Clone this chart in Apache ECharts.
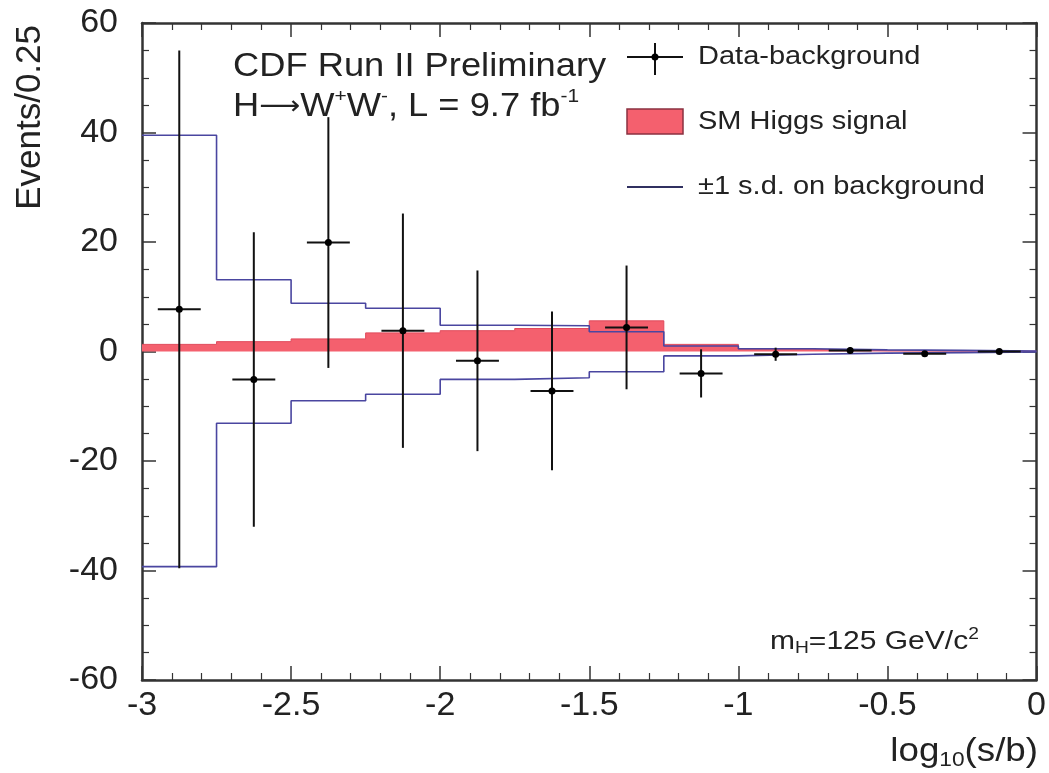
<!DOCTYPE html>
<html>
<head>
<meta charset="utf-8">
<script src="https://cdn.jsdelivr.net/npm/echarts@6/dist/echarts.min.js"></script>
<style>
html, body { margin: 0; padding: 0; background: #fff; }
#main { width: 1049px; height: 773px; }
</style>
</head>
<body>
<div id="main"></div>
<script>
// bins in log10(s/b), width 0.25
var binLow = [-3, -2.75, -2.5, -2.25, -2, -1.75, -1.5, -1.25, -1, -0.75, -0.5, -0.25];
var binWidth = 0.25;
// data - background and its error
var dataVal = [7.7, -5.1, 19.9, 3.8, -1.7, -7.2, 4.4, -4.0, -0.5, 0.2, -0.4, 0.0];
var dataErr = [47.3, 26.9, 22.9, 21.4, 16.5, 14.5, 11.3, 4.4, 1.2, 0.6, 0.4, 0.3];
// SM Higgs signal
var signal = [1.3, 1.8, 2.3, 3.4, 3.8, 4.2, 5.6, 1.3, 0.4, 0.15, 0.1, 0.05];
// +-1 s.d. on background
var bkgUp = [39.5, 13.1, 8.8, 7.9, 4.8, 4.7, 3.6, 1.0, 0.5, 0.3, 0.2, 0.1];
var bkgDown = [-39.3, -13.1, -9.0, -7.8, -5.1, -4.8, -3.7, -0.8, -0.5, -0.3, -0.2, -0.1];

var font = "'Liberation Sans', Arial, sans-serif";
var ink = '#222';
var bandColor = '#4a46a0';
var redColor = '#f4606e';

// step histogram points: left edge of every bin, then the right edge of the last
function steps(vals) {
  var pts = binLow.map(function (x, i) { return [x, vals[i]]; });
  pts.push([binLow[binLow.length - 1] + binWidth, vals[vals.length - 1]]);
  return pts;
}

var points = binLow.map(function (x, i) {
  return [x + binWidth / 2, dataVal[i], dataErr[i]];
});

var axisCommon = {
  axisLine: { show: true, onZero: false, lineStyle: { color: '#333', width: 2.5 } },
  axisTick: { show: true, inside: true, length: 14, lineStyle: { color: '#333', width: 1.5 } },
  minorTick: { show: true, length: 7, lineStyle: { color: '#333', width: 1.2 } },
  splitLine: { show: false },
  minorSplitLine: { show: false }
};

var myChart = echarts.init(document.getElementById('main'));
var option = {
  backgroundColor: '#fff',
  animation: false,
  grid: { left: 142, right: 11, top: 23, bottom: 93 },
  xAxis: [
    Object.assign({}, axisCommon, {
      type: 'value', position: 'bottom', min: -3, max: 0, interval: 0.5,
      minorTick: Object.assign({}, axisCommon.minorTick, { splitNumber: 5 }),
      axisLabel: { color: ink, fontSize: 34, fontFamily: font, margin: 9 }
    }),
    Object.assign({}, axisCommon, {
      type: 'value', position: 'top', min: -3, max: 0, interval: 0.5,
      minorTick: Object.assign({}, axisCommon.minorTick, { splitNumber: 5 }),
      axisLabel: { show: false }
    })
  ],
  yAxis: [
    Object.assign({}, axisCommon, {
      type: 'value', position: 'left', min: -60, max: 60, interval: 20,
      minorTick: Object.assign({}, axisCommon.minorTick, { splitNumber: 4 }),
      axisLabel: { color: ink, fontSize: 34, fontFamily: font, margin: 24 }
    }),
    Object.assign({}, axisCommon, {
      type: 'value', position: 'right', min: -60, max: 60, interval: 20,
      minorTick: Object.assign({}, axisCommon.minorTick, { splitNumber: 4 }),
      axisLabel: { show: false }
    })
  ],
  series: [
    {
      name: 'SM Higgs signal', type: 'line', step: 'end', symbol: 'none',
      data: steps(signal),
      lineStyle: { color: '#e04a5c', width: 1 },
      areaStyle: { color: redColor, opacity: 1, origin: 0 },
      z: 2
    },
    {
      name: 'bkg up', type: 'line', step: 'end', symbol: 'none',
      data: steps(bkgUp),
      lineStyle: { color: bandColor, width: 1.6 },
      z: 3
    },
    {
      name: 'bkg down', type: 'line', step: 'end', symbol: 'none',
      data: steps(bkgDown),
      lineStyle: { color: bandColor, width: 1.6 },
      z: 3
    },
    {
      name: 'Data-background', type: 'custom', z: 5,
      data: points,
      renderItem: function (params, api) {
        var x = api.value(0), y = api.value(1), e = api.value(2);
        var top = api.coord([x, y + e]);
        var bot = api.coord([x, y - e]);
        var l = api.coord([x - 0.072, y]);
        var r = api.coord([x + 0.072, y]);
        var c = api.coord([x, y]);
        var st = { stroke: '#111', lineWidth: 2 };
        return {
          type: 'group',
          children: [
            { type: 'line', shape: { x1: top[0], y1: top[1], x2: bot[0], y2: bot[1] }, style: st },
            { type: 'line', shape: { x1: l[0], y1: l[1], x2: r[0], y2: r[1] }, style: st },
            { type: 'circle', shape: { cx: c[0], cy: c[1], r: 3.5 }, style: { fill: '#000' } }
          ]
        };
      }
    }
  ],
  graphic: [
    // titles
    {
      type: 'text', x: 233, y: 50, scaleX: 1.1,
      style: { text: 'CDF Run II Preliminary', fill: ink, font: '33px ' + font, verticalAlign: 'top' }
    },
    {
      type: 'text', x: 233, y: 87, scaleX: 1.1,
      style: {
        text: '{n|H}{arr|⟶}{n|W}{sup|+}{n|W}{sup|-}{n|, L = 9.7 fb}{sup|-1}',
        fill: ink, verticalAlign: 'top',
        rich: {
          n: { fontSize: 33, fontFamily: font, lineHeight: 40, fill: ink },
          arr: { fontSize: 26, fontFamily: "'DejaVu Sans', sans-serif", lineHeight: 40, fill: ink },
          sup: { fontSize: 19, fontFamily: font, lineHeight: 22, verticalAlign: 'top', fill: ink }
        }
      }
    },
    // legend
    { type: 'line', shape: { x1: 627, y1: 57, x2: 683, y2: 57 }, style: { stroke: '#111', lineWidth: 2 } },
    { type: 'line', shape: { x1: 655, y1: 43, x2: 655, y2: 75 }, style: { stroke: '#111', lineWidth: 2 } },
    { type: 'circle', shape: { cx: 655, cy: 57, r: 3.5 }, style: { fill: '#000' } },
    { type: 'text', x: 698, y: 57, scaleX: 1.16, style: { text: 'Data-background', fill: ink, font: '25px ' + font, verticalAlign: 'middle' } },
    { type: 'rect', shape: { x: 627, y: 109, width: 56, height: 25 }, style: { fill: redColor, stroke: '#8a3040', lineWidth: 1.5 } },
    { type: 'text', x: 698, y: 122, scaleX: 1.16, style: { text: 'SM Higgs signal', fill: ink, font: '25px ' + font, verticalAlign: 'middle' } },
    { type: 'line', shape: { x1: 627, y1: 187, x2: 683, y2: 187 }, style: { stroke: '#303060', lineWidth: 2 } },
    { type: 'text', x: 698, y: 187, scaleX: 1.16, style: { text: '±1 s.d. on background', fill: ink, font: '25px ' + font, verticalAlign: 'middle' } },
    // mass label
    {
      type: 'text', x: 770, y: 627, scaleX: 1.2,
      style: {
        text: '{n|m}{sub|H}{n|=125 GeV/c}{sup|2}',
        fill: ink, verticalAlign: 'top',
        rich: {
          n: { fontSize: 25, fontFamily: font, lineHeight: 30, fill: ink },
          sub: { fontSize: 16, fontFamily: font, lineHeight: 15, verticalAlign: 'bottom', fill: ink },
          sup: { fontSize: 16, fontFamily: font, lineHeight: 15, verticalAlign: 'top', fill: ink }
        }
      }
    },
    // axis titles
    {
      type: 'text', x: 1038, y: 733, scaleX: 1.08,
      style: {
        text: '{n|log}{sub|10}{n|(s/b)}',
        fill: ink, align: 'right', verticalAlign: 'top',
        rich: {
          n: { fontSize: 34, fontFamily: font, lineHeight: 38, fill: ink },
          sub: { fontSize: 21, fontFamily: font, lineHeight: 20, verticalAlign: 'bottom', fill: ink }
        }
      }
    },
    {
      type: 'text', x: 30, y: 25, rotation: Math.PI / 2,
      style: { text: 'Events/0.25', fill: ink, font: '35px ' + font, align: 'right', verticalAlign: 'middle' }
    }
  ]
};
myChart.setOption(option, true);
</script>
</body>
</html>
